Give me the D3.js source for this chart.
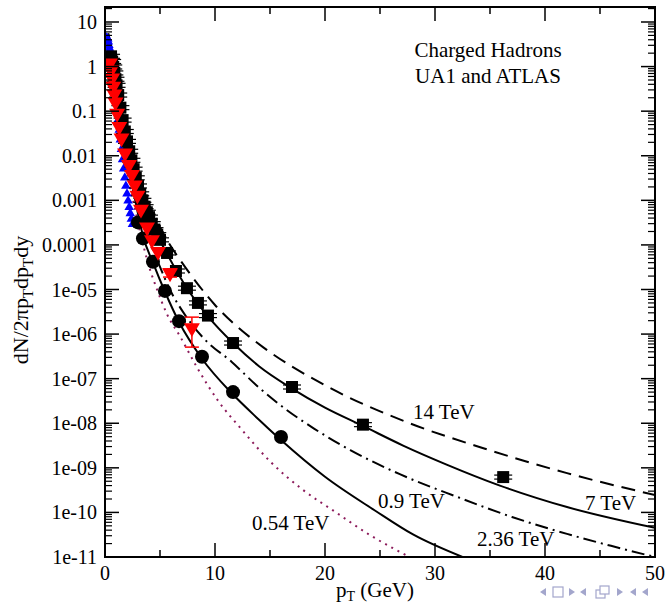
<!DOCTYPE html>
<html><head><meta charset="utf-8">
<script src="https://cdn.jsdelivr.net/npm/d3@7"></script>
<style>
body{margin:0;background:#fff}
svg{display:block}
text{font-family:"Liberation Serif","Times New Roman",serif;fill:#000}
</style>
</head><body>
<svg id="c" width="669" height="607"></svg>
<script>
// ---------------- data ----------------
const xTickValues = [0, 10, 20, 30, 40, 50];
const yTickValues = [1e-11,1e-10,1e-9,1e-8,1e-7,1e-6,1e-5,1e-4,1e-3,1e-2,1e-1,1,10];
const yTickLabels = ["1e-11","1e-10","1e-09","1e-08","1e-07","1e-06","1e-05","0.0001","0.001","0.01","0.1","1","10"];

// ATLAS 7 TeV (black squares)
const sqPt  = [0.55,0.65,0.75,0.85,0.95,1.05,1.2,1.4,1.6,1.8,2.0,2.2,2.4,2.6,2.8,3.0,3.2,3.4,3.6,3.8,4.0,4.25,4.5,4.75,5.0,5.64,6.45,7.45,8.45,9.36,11.64,17.0,23.45,36.2];
const sqVal = [1.7,1.3,0.98,0.72,0.52,0.38,0.23,0.12,0.063,0.035,0.021,0.0126,0.0079,0.005,0.0032,0.0021,0.0014,0.001,7.2e-4,5.4e-4,4.2e-4,3.0e-4,2.2e-4,1.7e-4,1.3e-4,6.6e-5,2.6e-5,1.07e-5,5.0e-6,2.6e-6,6.3e-7,6.5e-8,9.3e-9,6.2e-10];

// ATLAS 2.36 TeV (red down triangles)
const rtPt  = [0.45,0.55,0.65,0.75,0.85,0.95,1.1,1.3,1.5,1.82,2.18,2.45,2.7,2.95,3.27,3.82,4.27,4.82,5.91,7.9];
const rtVal = [1.2,0.83,0.55,0.36,0.24,0.16,0.089,0.045,0.025,0.0115,0.0063,0.0038,0.0022,0.0013,6.3e-4,2.5e-4,1.3e-4,7.1e-5,2.35e-5,1.38e-6];
const rtErrLo = [null,null,null,null,null,null,null,null,null,null,null,null,null,null,null,null,null,null,1.9e-5,5.1e-7];
const rtErrHi = [null,null,null,null,null,null,null,null,null,null,null,null,null,null,null,null,null,null,2.9e-5,2.4e-6];

// UA1 (blue up triangles)
const btPt  = [0.15,0.2,0.25,0.3,0.35,0.4,0.45,0.5,0.6,0.7,0.8,0.9,1.0,1.1,1.2,1.3,1.4,1.5,1.6,1.7,1.8,1.9,2.0,2.1,2.2,2.3,2.4,2.5];
const btVal = [4.4,4.0,4.2,3.6,3.0,2.6,2.3,1.9,1.25,0.8,0.5,0.3,0.18,0.11,0.064,0.038,0.023,0.014,0.0082,0.0051,0.0032,0.0021,0.0014,9.8e-4,7.0e-4,5.1e-4,3.8e-4,2.9e-4];

// ATLAS 0.9 TeV (black circles)
const ciPt  = [3.0,3.45,4.36,5.45,6.73,8.82,11.64,16.0];
const ciVal = [3.2e-4,1.4e-4,4.2e-5,9.3e-6,1.95e-6,3.1e-7,5.0e-8,4.9e-9];

// model curves
const c14Pt  = [0.3,1,2,3,4,5,5.64,7,8.5,10,11.55,14.36,20,27.7,34.4,42,50];
const c14Val = [5.6,0.89,0.045,0.0045,7.9e-4,2.5e-4,1.29e-4,4.0e-5,1.26e-5,4.5e-6,1.86e-6,5.1e-7,7.1e-8,1.0e-8,2.75e-9,7.6e-10,2.45e-10];
const c7Pt   = [0.3,1,2,3,4,5,5.64,7.45,9.36,11.64,14,17,20,23.45,27.1,31,35.9,42,50];
const c7Val  = [4.5,0.63,0.025,0.0022,4.0e-4,1.26e-4,6.3e-5,1.07e-5,2.5e-6,6.3e-7,1.9e-7,6.0e-8,2.24e-8,8.7e-9,3.16e-9,1.2e-9,4.0e-10,1.32e-10,4.5e-11];
const c236Pt = [0.3,1,2,3,4,5,6,7.27,9,11.5,14,16.5,19,22.3,26.8,32,37,42,46,50];
const c236Val= [3.5,0.45,0.014,0.001,1.4e-4,3.2e-5,8.9e-6,2.7e-6,7.9e-7,2.4e-7,6.3e-8,2.0e-8,7.6e-9,2.5e-9,7.2e-10,2.24e-10,7.9e-11,3.3e-11,1.78e-11,1.0e-11];
const c09Pt  = [0.3,1,2,3,3.45,4.36,5.45,6.73,8.82,11.64,14,16,20,24.5,28,32.5];
const c09Val = [3.2,0.35,0.01,5.0e-4,1.6e-4,4.0e-5,8.9e-6,1.86e-6,2.8e-7,4.4e-8,1.2e-8,4.2e-9,6.3e-10,1.12e-10,3.2e-11,1.0e-11];
const c054Pt = [0.3,1,2,3,3.9,4.73,5.64,6.82,8.36,10.24,12.45,15,18,21,24,27.7];
const c054Val= [2.5,0.25,0.005,3.2e-4,4.0e-5,1.0e-5,2.8e-6,8.9e-7,1.8e-7,3.3e-8,7.1e-9,1.4e-9,3.2e-10,1.0e-10,3.2e-11,1.0e-11];

const curveLabels = ["14 TeV","7 TeV","0.9 TeV","2.36 TeV","0.54 TeV"];

// ---------------- drawing ----------------
const svg = d3.select("#c");
const L = 105, R = 655, T = 7, B = 557;
const x = d3.scaleLinear().domain([0, 50]).range([L, R]);
const y = d3.scaleLog().domain([1e-11, 10]).range([B, 22]);
y.domain([1e-11, y.invert(T)]).range([B, T]);

const zip = (a, b) => a.map((v, i) => [v, b[i]]);
const line = d3.line().x(d => x(d[0])).y(d => y(d[1])).curve(d3.curveMonotoneX);

svg.append("clipPath").attr("id","pc").append("rect")
  .attr("x", L).attr("y", T).attr("width", R - L).attr("height", B - T);
const plot = svg.append("g").attr("clip-path","url(#pc)");

// curves
const curves = [
  {pt:c14Pt,  v:c14Val,  dash:"14,8",  color:"#000", w:2},
  {pt:c7Pt,   v:c7Val,   dash:null,    color:"#000", w:2},
  {pt:c236Pt, v:c236Val, dash:"13,5,2,5", color:"#000", w:2},
  {pt:c09Pt,  v:c09Val,  dash:null,    color:"#000", w:2},
  {pt:c054Pt, v:c054Val, dash:"2,5",   color:"#8b1a5a", w:2}
];
curves.forEach(c => {
  plot.append("path").attr("d", line(zip(c.pt, c.v)))
    .attr("fill","none").attr("stroke", c.color).attr("stroke-width", c.w)
    .attr("stroke-dasharray", c.dash);
});

// blue up triangles (drawn first, partly hidden by the ATLAS points)
const triUp = d3.symbol().type(d3.symbolTriangle).size(40);
plot.append("g").selectAll("path").data(zip(btPt, btVal)).join("path")
  .attr("d", triUp).attr("transform", d => `translate(${x(d[0])},${y(d[1])})`)
  .attr("fill", "#0000ff");

// black squares with small bar marks
const sq = zip(sqPt, sqVal);
const gs = plot.append("g");
gs.selectAll("line.a").data(sq).join("line")
  .attr("x1", d => x(d[0]) - 9).attr("x2", d => x(d[0]) + 9)
  .attr("y1", d => y(d[1]) - 2).attr("y2", d => y(d[1]) - 2)
  .attr("stroke","#000").attr("stroke-width",1.2);
gs.selectAll("line.b").data(sq).join("line")
  .attr("x1", d => x(d[0]) - 9).attr("x2", d => x(d[0]) + 9)
  .attr("y1", d => y(d[1]) + 2).attr("y2", d => y(d[1]) + 2)
  .attr("stroke","#000").attr("stroke-width",1.2);
gs.selectAll("rect").data(sq).join("rect")
  .attr("x", d => x(d[0]) - 6).attr("y", d => y(d[1]) - 6)
  .attr("width", 12).attr("height", 12).attr("fill","#000");

// black circles
plot.append("g").selectAll("circle").data(zip(ciPt, ciVal)).join("circle")
  .attr("cx", d => x(d[0])).attr("cy", d => y(d[1])).attr("r", 7).attr("fill","#000");

// red down triangles + error bars
const rt = rtPt.map((p, i) => ({p, v: rtVal[i], lo: rtErrLo[i], hi: rtErrHi[i]}));
const ge = plot.append("g").attr("stroke","#ff0000").attr("stroke-width",1.5);
rt.filter(d => d.lo !== null).forEach(d => {
  const cx = x(d.p);
  ge.append("line").attr("x1",cx).attr("x2",cx).attr("y1",y(d.lo)).attr("y2",y(d.hi));
  ge.append("line").attr("x1",cx-7).attr("x2",cx+7).attr("y1",y(d.lo)).attr("y2",y(d.lo));
  ge.append("line").attr("x1",cx-7).attr("x2",cx+7).attr("y1",y(d.hi)).attr("y2",y(d.hi));
});
const triDown = d3.symbol().type(d3.symbolTriangle).size(110);
plot.append("g").selectAll("path").data(rt).join("path")
  .attr("d", triDown).attr("transform", d => `translate(${x(d.p)},${y(d.v)}) rotate(180)`)
  .attr("fill", "#ff0000");

// frame
svg.append("rect").attr("x", L).attr("y", T).attr("width", R - L).attr("height", B - T)
  .attr("fill","none").attr("stroke","#000").attr("stroke-width",2);

// ticks
const tk = svg.append("g").attr("stroke","#000").attr("stroke-width",1.5);
const xMinor = d3.range(5, 50, 10);
xTickValues.forEach(v => {
  tk.append("line").attr("x1",x(v)).attr("x2",x(v)).attr("y1",B).attr("y2",B-14);
  tk.append("line").attr("x1",x(v)).attr("x2",x(v)).attr("y1",T).attr("y2",T+14);
});
xMinor.forEach(v => {
  tk.append("line").attr("x1",x(v)).attr("x2",x(v)).attr("y1",B).attr("y2",B-7);
  tk.append("line").attr("x1",x(v)).attr("x2",x(v)).attr("y1",T).attr("y2",T+7);
});
const yTop = y.domain()[1];
yTickValues.forEach(v => {
  tk.append("line").attr("x1",L).attr("x2",L+14).attr("y1",y(v)).attr("y2",y(v));
  tk.append("line").attr("x1",R).attr("x2",R-14).attr("y1",y(v)).attr("y2",y(v));
  for (let k = 2; k <= 9; k++) {
    const m = v * k;
    if (m > yTop) break;
    tk.append("line").attr("x1",L).attr("x2",L+7).attr("y1",y(m)).attr("y2",y(m)).attr("stroke-width",1.2);
    tk.append("line").attr("x1",R).attr("x2",R-7).attr("y1",y(m)).attr("y2",y(m)).attr("stroke-width",1.2);
  }
});

// tick labels
svg.append("g").selectAll("text").data(xTickValues).join("text")
  .attr("x", d => x(d)).attr("y", B + 23).attr("text-anchor","middle")
  .attr("font-size", 20).text(d => d);
svg.append("g").selectAll("text").data(yTickValues).join("text")
  .attr("x", L - 8).attr("y", d => y(d) + 7).attr("text-anchor","end")
  .attr("font-size", 20).text((d, i) => yTickLabels[i]);

// axis titles
const xt = svg.append("text").attr("x", 375).attr("y", 597).attr("text-anchor","middle").attr("font-size", 21);
xt.append("tspan").text("p");
xt.append("tspan").attr("font-size", 14).attr("dy", 4).text("T");
xt.append("tspan").attr("dy", -4).text(" (GeV)");

const yt = svg.append("text").attr("transform","translate(28,300) rotate(-90)")
  .attr("text-anchor","middle").attr("font-size", 22);
yt.append("tspan").text("dN/2πp");
yt.append("tspan").attr("font-size", 15).attr("dy", 5).text("T");
yt.append("tspan").attr("dy", -5).text("dp");
yt.append("tspan").attr("font-size", 15).attr("dy", 5).text("T");
yt.append("tspan").attr("dy", -5).text("dy");

// annotations
svg.append("text").attr("x", 488).attr("y", 57).attr("text-anchor","middle").attr("font-size", 21).text("Charged Hadrons");
svg.append("text").attr("x", 488).attr("y", 83).attr("text-anchor","middle").attr("font-size", 21).text("UA1 and ATLAS");
const labelPos = [[413,419],[585,510],[378,508],[477,546],[252,530]];
curveLabels.forEach((t, i) => {
  svg.append("text").attr("x", labelPos[i][0]).attr("y", labelPos[i][1]).attr("font-size", 21).text(t);
});

// beamer navigation symbols
const nav = svg.append("g").attr("fill","#a3a6cc").attr("stroke","#a3a6cc");
const ny = 592;
nav.append("path").attr("d", `M546,${ny-4}L540,${ny}L546,${ny+4}Z`).attr("stroke","none");
nav.append("rect").attr("x",553).attr("y",ny-5).attr("width",10).attr("height",10).attr("fill","none").attr("stroke-width",1.2);
nav.append("path").attr("d", `M569,${ny-4}L575,${ny}L569,${ny+4}Z`).attr("stroke","none");
nav.append("path").attr("d", `M586,${ny-4}L580,${ny}L586,${ny+4}Z`).attr("stroke","none");
nav.append("rect").attr("x",596).attr("y",ny-2).attr("width",9).attr("height",8).attr("fill","#fff").attr("stroke-width",1.2);
nav.append("rect").attr("x",600).attr("y",ny-6).attr("width",9).attr("height",8).attr("fill","#fff").attr("stroke-width",1.2);
nav.append("path").attr("d", `M617,${ny-4}L623,${ny}L617,${ny+4}Z`).attr("stroke","none");
nav.append("path").attr("d", `M636,${ny-4}L630,${ny}L636,${ny+4}Z`).attr("stroke","none");
nav.append("path").attr("d", `M648,${ny-4}L642,${ny}L648,${ny+4}Z`).attr("stroke","none");
</script>
</body></html>
